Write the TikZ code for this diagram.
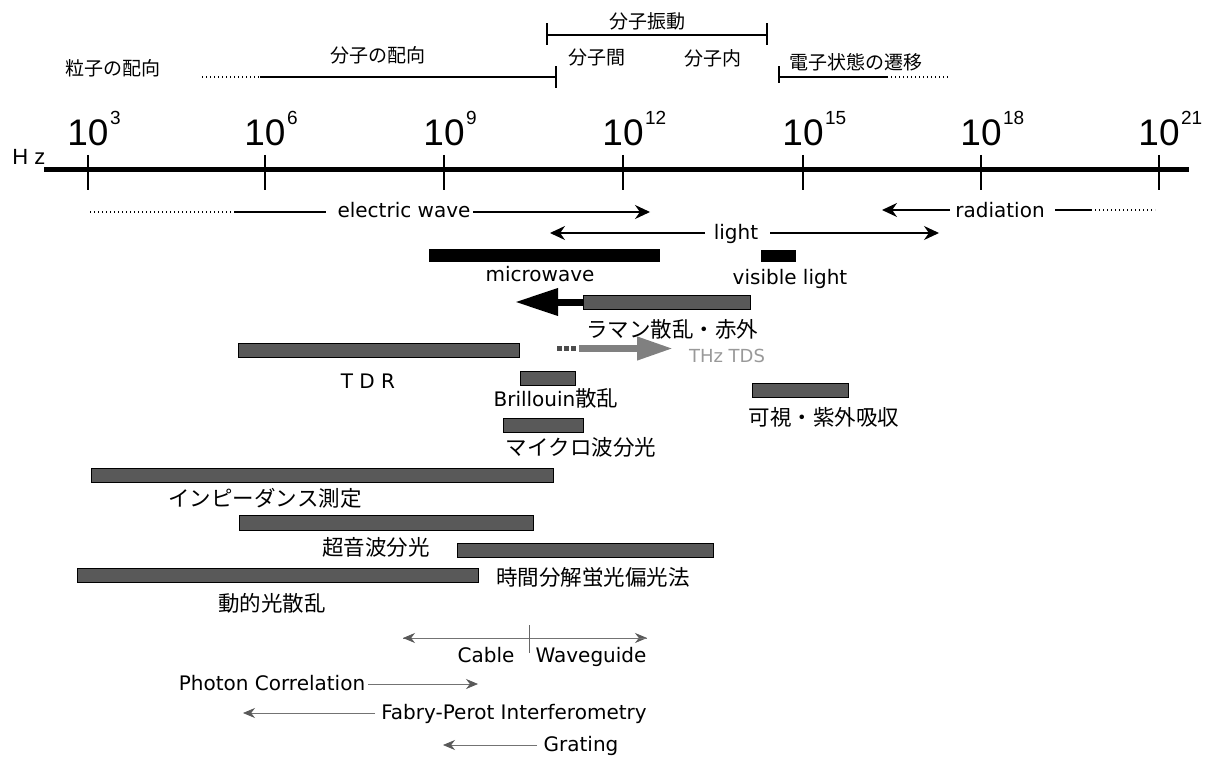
\documentclass[tikz,border=0pt]{standalone}
\usepackage{fontspec}
\usetikzlibrary{arrows.meta}
\newfontfamily\jpf{Noto Sans CJK JP}
\newfontfamily\latf{DejaVu Sans}
\newfontfamily\numf{Liberation Sans}

\begin{document}
\begin{tikzpicture}[x=1pt,y=-1pt,
  every node/.style={inner sep=0pt, outer sep=0pt},
  jp/.style={font=\jpf\fontsize{19}{19}\selectfont},
  jpb/.style={font=\jpf\fontsize{21.5}{22}\selectfont},
  lat/.style={font=\latf\fontsize{20}{20}\selectfont, anchor=base},
  numlab/.style={font=\numf\fontsize{37}{37}\selectfont, anchor=base},
  axisline/.style={line width=5pt},
  tickline/.style={line width=1.3pt},
  rule/.style={line width=1.2pt},
  dotrule/.style={line width=1.4pt, dash pattern=on 1.4pt off 2.6pt},
  bar/.style={fill=black!65, draw=black, line width=0.8pt},
  blackbar/.style={fill=black},
  wide/.style={line width=1.3pt, -{Stealth[length=15pt,width=14pt]}},
  faint/.style={draw=black!55, line width=0.7pt,
    -{Stealth[length=12pt,width=10pt,color=black!65,fill=black!65]}},
]
\useasboundingbox (0,0) rectangle (1212,762);

% ---- frequency axis ----
\coordinate (axL) at (44,170);
\coordinate (axR) at (1189,170);
\draw[axisline] (axL) -- (axR);
\node[font=\numf\fontsize{22}{22}\selectfont, anchor=base] (hz) at (29,165) {H z};
\foreach \e/\x in {3/88, 6/265, 9/444, 12/623, 15/803, 18/981, 21/1159}{
  \coordinate (tt\e) at (\x,155);
  \coordinate (tb\e) at (\x,190);
  \draw[tickline] (tt\e) -- (tb\e);
  \node[numlab] (lab\e) at (\x,146)
    {10\rlap{\hspace{1.5pt}\raisebox{21pt}{\fontsize{19}{19}\selectfont\e}}};
}

% ---- molecular processes ----
\node[jp] (vib) at (647,21) {分子振動};
\coordinate (vibL) at (547,35);
\coordinate (vibR) at (767,35);
\draw[rule] (vibL) -- (vibR);
\draw[rule] ([yshift=-10pt]vibL) -- ([yshift=12pt]vibL);
\draw[rule] ([yshift=-10pt]vibR) -- ([yshift=12pt]vibR);
\node[jp] (inter) at (597,58) {分子間};
\node[jp] (intra) at (713,58) {分子内};

\node[jp] (particle) at (113,68) {粒子の配向};
\node[jp] (orient) at (378,55) {分子の配向};
\coordinate (orA) at (202,77);
\coordinate (orB) at (260,77);
\coordinate (orC) at (556,77);
\draw[dotrule] (orA) -- (orB);
\draw[rule] (orB) -- (orC);
\draw[rule] ([yshift=-11pt]orC) -- ([yshift=11pt]orC);

\node[jp] (elec) at (856,62) {電子状態の遷移};
\coordinate (elA) at (779,77);
\coordinate (elB) at (887,77);
\coordinate (elC) at (950,77);
\draw[rule] (elA) -- (elB);
\draw[dotrule] (elB) -- (elC);
\draw[rule] ([yshift=-6pt]elA) -- ([yshift=11pt]elA);

% ---- wave regions ----
\node[lat] (ew) at (404,218) {electric wave};
\coordinate (ewA) at (90,212);
\coordinate (ewB) at (235,212);
\coordinate (ewC) at (326,212);
\coordinate (ewD) at (473,212);
\coordinate (ewTip) at (650,212);
\draw[dotrule] (ewA) -- (ewB);
\draw[rule] (ewB) -- (ewC);
\draw[wide] (ewD) -- (ewTip);

\node[lat] (rad) at (1000,217) {radiation};
\coordinate (radA) at (950,210);
\coordinate (radTip) at (882,210);
\coordinate (radB) at (1055,210);
\coordinate (radC) at (1091,210);
\coordinate (radD) at (1155,210);
\draw[wide] (radA) -- (radTip);
\draw[rule] (radB) -- (radC);
\draw[dotrule] (radC) -- (radD);

\node[lat] (light) at (736,239) {light};
\coordinate (liA) at (705,233);
\coordinate (liL) at (550,233);
\coordinate (liB) at (770,233);
\coordinate (liR) at (939,233);
\draw[wide] (liA) -- (liL);
\draw[wide] (liB) -- (liR);

\draw[blackbar] (429,249) rectangle (659,261);
\node[lat] (mw) at (540,281) {microwave};
\draw[blackbar] (761,250) rectangle (795,261);
\node[lat] (vis) at (790,284) {visible light};

% ---- methods ----
\coordinate (ramanL) at (583,302);
\coordinate (ramanTip) at (515,302);
\draw[line width=7pt, -{Triangle[length=43pt,width=26pt]}] ([xshift=1pt]ramanL) -- (ramanTip);
\draw[bar] (583,295) rectangle (750,309);
\node[jpb] (raman) at (672,329) {ラマン散乱・赤外};

\foreach \sx in {557,564,571}{
  \fill[black!70] (\sx,346) rectangle ++(5,5);
}
\coordinate (thzA) at (579,348.5);
\coordinate (thzTip) at (673,348.5);
\draw[line width=7pt, black!50, -{Triangle[length=36pt,width=22pt]}] (thzA) -- (thzTip);
\node[lat, text=black!40, font=\latf\fontsize{18}{18}\selectfont] (thz) at (727,362) {THz TDS};

\draw[bar] (238,343) rectangle (519,357);
\node[lat] (tdr) at (368,388) {T D R};

\draw[bar] (520,371) rectangle (575,385);
\node[lat] (bri) at (556,406) {Brillouin{\jpf\fontsize{21.5}{22}\selectfont 散乱}};

\draw[bar] (752,383) rectangle (848,397);
\node[jpb] (uv) at (824,417) {可視・紫外吸収};

\draw[bar] (503,418) rectangle (583,432);
\node[jpb] (mws) at (581,447) {マイクロ波分光};

\draw[bar] (91,468) rectangle (553,482);
\node[jpb] (imp) at (265,498) {インピーダンス測定};

\draw[bar] (239,515) rectangle (533,530);
\node[jpb] (us) at (376,547) {超音波分光};

\draw[bar] (457,543) rectangle (713,557);
\node[jpb] (trf) at (593,577) {時間分解蛍光偏光法};

\draw[bar] (77,568) rectangle (478,582);
\node[jpb] (dls) at (272,603) {動的光散乱};

% ---- techniques ----
\coordinate (cwL) at (403,638);
\coordinate (cwR) at (647,638);
\coordinate (cwT) at (529,625);
\coordinate (cwB) at (529,653);
\draw[faint] (cwL) -- (cwR);
\draw[faint] (cwR) -- (cwL);
\draw[draw=black!60, line width=0.8pt] (cwT) -- (cwB);
\node[lat] (cable) at (486,662) {Cable};
\node[lat] (wg) at (591,662) {Waveguide};

\node[lat] (pc) at (272,690) {Photon Correlation};
\coordinate (pcA) at (368,684);
\coordinate (pcTip) at (478,684);
\draw[faint] (pcA) -- (pcTip);

\node[lat] (fp) at (514,719) {Fabry-Perot Interferometry};
\coordinate (fpA) at (375,713);
\coordinate (fpTip) at (243,713);
\draw[faint] (fpA) -- (fpTip);

\node[lat] (gr) at (581,751) {Grating};
\coordinate (grA) at (537,745);
\coordinate (grTip) at (443,745);
\draw[faint] (grA) -- (grTip);
\end{tikzpicture}
\end{document}
